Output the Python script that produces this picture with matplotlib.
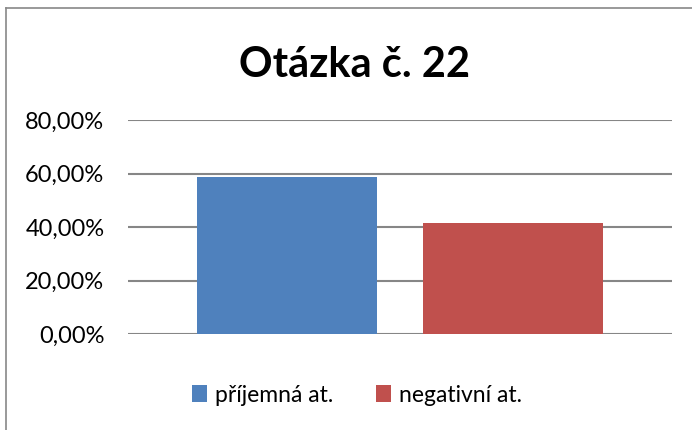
import matplotlib
matplotlib.use("Agg")
import matplotlib.pyplot as plt
from matplotlib.lines import Line2D
from matplotlib.patches import Patch

categories = ["příjemná at.", "negativní at."]
values = [0.5862, 0.4138]
colors = ["#4F81BD", "#C0504D"]
yticks = [0.0, 0.2, 0.4, 0.6, 0.8]
title = "Otázka č. 22"

plt.rcParams['font.family'] = ['Lato', 'DejaVu Sans']

fig = plt.figure(figsize=(6.92, 4.30), dpi=100)
ax = fig.add_axes([128/692, 1-334/430, (672-128)/692, (334-120)/430])

x = list(range(len(categories)))
ax.bar(x, values, width=0.796, color=colors, zorder=3)
ax.set_xlim(-0.7035, 1.7035)
ax.set_ylim(0, 0.8)
ax.set_yticks(yticks)
ax.set_yticklabels([f"{v*100:.2f}%".replace(".", ",") for v in yticks], fontsize=17)
ax.set_xticks([])
for s in ax.spines.values():
    s.set_visible(False)
ax.tick_params(axis='y', length=0, pad=17)
ax.yaxis.grid(True, color="#868686", linewidth=1.5, zorder=0)
ax.set_axisbelow(True)

fig.text(355/692, 1-77/430, title, ha='center', va='baseline', fontsize=30, fontweight='bold')

handles = [Patch(facecolor=c, edgecolor='none') for c in colors]
fig.legend(handles, categories, loc='center', bbox_to_anchor=(357/692, 1-395/430),
           ncol=2, frameon=False, fontsize=16.5, handlelength=0.65, handleheight=0.75,
           handletextpad=0.35, columnspacing=1.9)

# outer border (top and left visible)
fig.add_artist(Line2D([6/692, 6/692], [0, 1-8/430], transform=fig.transFigure, color="#888888", lw=1.2))
fig.add_artist(Line2D([6/692, 1], [1-8/430, 1-8/430], transform=fig.transFigure, color="#888888", lw=1.2))

fig.savefig("out.png", dpi=100)
